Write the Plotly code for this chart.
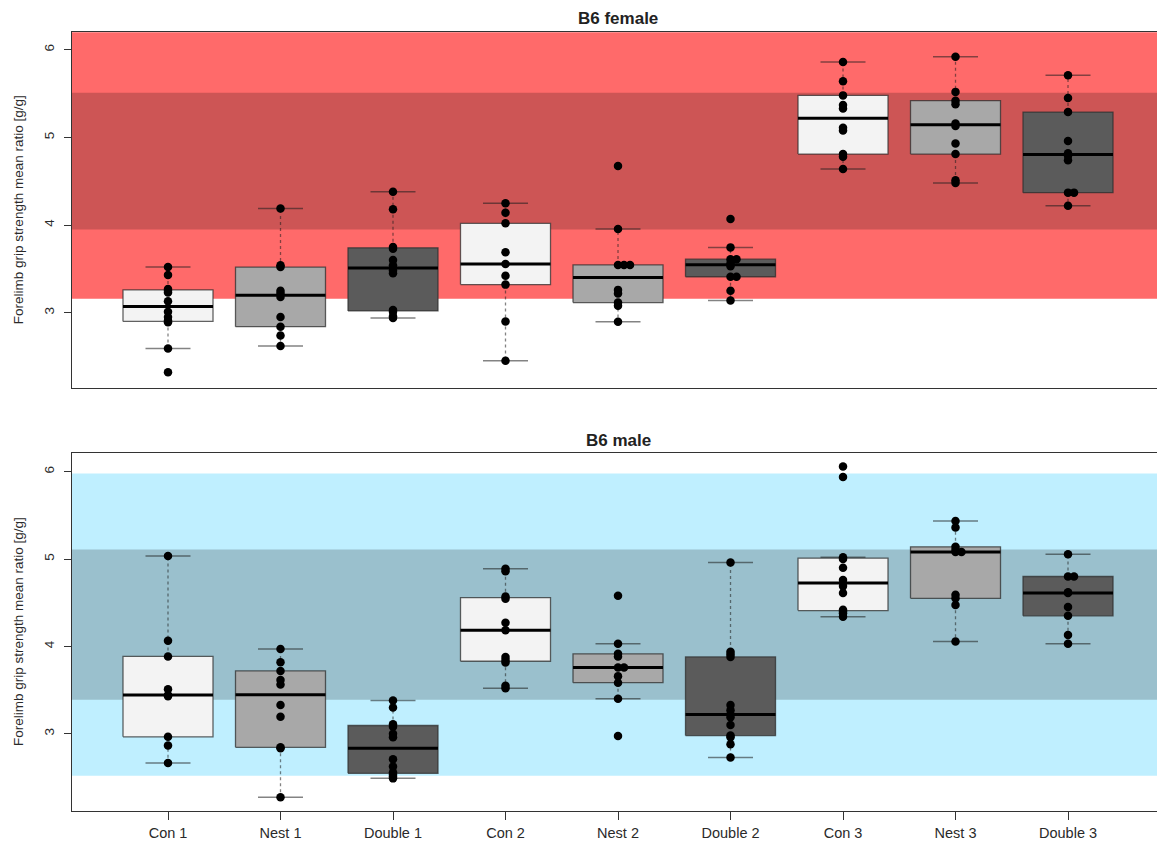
import math
import plotly.graph_objects as go

categories = ["Con 1", "Nest 1", "Double 1", "Con 2", "Nest 2", "Double 2",
              "Con 3", "Nest 3", "Double 3"]

# B6 female: forelimb grip strength mean ratio [g/g] per animal
female_con1 = [2.32, 2.59, 2.89, 2.91, 2.95, 3.01, 3.13, 3.23, 3.25, 3.27, 3.43, 3.52]
female_nest1 = [2.62, 2.74, 2.84, 2.95, 3.18, 3.22, 3.25, 3.52, 3.54, 4.19]
female_double1 = [2.94, 2.96, 3.01, 3.03, 3.45, 3.48, 3.54, 3.60, 3.73, 3.75, 4.18, 4.38]
female_con2 = [2.45, 2.90, 3.32, 3.42, 3.555, 3.69, 4.02, 4.14, 4.25]
female_nest2 = [2.895, 3.08, 3.115, 3.22, 3.26, 3.545, 3.545, 3.545, 3.955, 4.675]
female_double2 = [3.14, 3.25, 3.41, 3.41, 3.53, 3.565, 3.61, 3.61, 3.745, 4.07]
female_con3 = [4.64, 4.78, 4.81, 5.08, 5.11, 5.33, 5.37, 5.48, 5.64, 5.86]
female_nest3 = [4.48, 4.51, 4.81, 4.93, 5.13, 5.16, 5.38, 5.42, 5.52, 5.92]
female_double3 = [4.22, 4.37, 4.37, 4.74, 4.79, 4.82, 4.96, 5.29, 5.45, 5.71]

# B6 male
male_con1 = [2.665, 2.865, 2.965, 3.43, 3.445, 3.51, 3.885, 4.065, 5.035]
male_nest1 = [2.275, 2.835, 2.845, 3.195, 3.33, 3.565, 3.615, 3.72, 3.82, 3.97]
male_double1 = [2.49, 2.51, 2.535, 2.56, 2.625, 2.71, 2.96, 3.00, 3.08, 3.11, 3.30, 3.38]
male_con2 = [3.52, 3.55, 3.815, 3.845, 3.88, 4.185, 4.27, 4.545, 4.57, 4.86, 4.89]
male_nest2 = [2.975, 3.40, 3.585, 3.66, 3.76, 3.76, 3.885, 3.915, 4.03, 4.58]
male_double2 = [2.73, 2.88, 2.96, 2.98, 3.10, 3.19, 3.22, 3.27, 3.33, 3.88, 3.91, 3.94, 4.96]
male_con3 = [4.34, 4.38, 4.40, 4.42, 4.61, 4.69, 4.76, 4.90, 5.00, 5.02, 5.94, 6.06]
male_nest3 = [4.055, 4.475, 4.55, 4.59, 5.08, 5.08, 5.105, 5.14, 5.36, 5.435]
male_double3 = [4.03, 4.13, 4.35, 4.45, 4.61, 4.62, 4.80, 4.80, 5.055]

# reference ranges (inner and outer band) for each sex
female_band_inner = [3.95, 5.51]
female_band_outer = [3.16, 6.30]
male_band_inner = [3.39, 5.11]
male_band_outer = [2.52, 5.98]

y_ticks = [3, 4, 5, 6]
y_title = "Forelimb grip strength mean ratio [g/g]"

female = [female_con1, female_nest1, female_double1, female_con2, female_nest2,
          female_double2, female_con3, female_nest3, female_double3]
male = [male_con1, male_nest1, male_double1, male_con2, male_nest2,
        male_double2, male_con3, male_nest3, male_double3]

W, H = 1157, 848
X_RANGE = [0.144, 9.791]
X_DOM = [71.7 / W, 1.0]
TOP_DOM = [1 - 388 / H, 1 - 32.3 / H]
BOT_DOM = [1 - 810.7 / H, 1 - 453.3 / H]
TOP_YR = [2.14, 6.20]
BOT_YR = [2.12, 6.21]

FILL = {"Con": "#F3F3F3", "Nest": "#A8A8A8", "Double": "#5B5B5B"}
EDGE = "rgba(45,45,45,0.75)"
WHISK = "rgba(30,30,30,0.55)"
FONT = "Liberation Sans, Arial, sans-serif"
TXT = "#2a2a2a"

px_per_x = (X_DOM[1] - X_DOM[0]) * W / (X_RANGE[1] - X_RANGE[0])
tie_step = 6.0 / px_per_x  # horizontal spacing for tied points


def fivenum(v):
    s = sorted(v)
    n = len(s)
    n4 = math.floor((n + 3) / 2) / 2
    d = [1, n4, (n + 1) / 2, n + 1 - n4, n]
    return [0.5 * (s[math.floor(k) - 1] + s[math.ceil(k) - 1]) for k in d]


def box_stats(v):
    _, q1, med, q3, _ = fivenum(v)
    iqr = q3 - q1
    lo = min(x for x in v if x >= q1 - 1.5 * iqr)
    hi = max(x for x in v if x <= q3 + 1.5 * iqr)
    return lo, q1, med, q3, hi


fig = go.Figure()


def add_panel(groups, xa, ya):
    for i, (name, vals) in enumerate(zip(categories, groups)):
        p = i + 1
        lo, q1, med, q3, hi = box_stats(vals)
        fill = FILL[name.split()[0]]
        common = dict(xaxis=xa, yaxis=ya, showlegend=False, hoverinfo="skip")
        # whiskers (dashed)
        fig.add_trace(go.Scatter(x=[p, p, None, p, p], y=[q3, hi, None, q1, lo],
                                 mode="lines", line=dict(color=WHISK, width=1.3, dash="3px,3px"),
                                 **common))
        # staples
        fig.add_trace(go.Scatter(x=[p - 0.2, p + 0.2, None, p - 0.2, p + 0.2],
                                 y=[hi, hi, None, lo, lo], mode="lines",
                                 line=dict(color=WHISK, width=1.5), **common))
        # box
        fig.add_trace(go.Scatter(x=[p - 0.4, p + 0.4, p + 0.4, p - 0.4, p - 0.4],
                                 y=[q1, q1, q3, q3, q1], mode="lines", fill="toself",
                                 fillcolor=fill, line=dict(color=EDGE, width=1.3), **common))
        # median
        fig.add_trace(go.Scatter(x=[p - 0.4, p + 0.4], y=[med, med], mode="lines",
                                 line=dict(color="black", width=3), **common))
        # individual animals; tied values are set side by side
        sv = sorted(vals)
        xs = []
        for j, v in enumerate(sv):
            ties = sum(1 for w in sv[:j] if abs(w - v) < 1e-9)
            xs.append(p + ties * tie_step)
        fig.add_trace(go.Scatter(x=xs, y=sv, mode="markers",
                                 marker=dict(color="black", size=8.5, line=dict(width=0)),
                                 **common))


add_panel(female, "x", "y")
add_panel(male, "x2", "y2")

shapes = []
for yref, outer, inner, c_out, c_in in [
        ("y", female_band_outer, female_band_inner, "#FF6A6A", "#CD5555"),
        ("y2", male_band_outer, male_band_inner, "#BFEFFF", "#9AC0CD")]:
    xref = "x domain" if yref == "y" else "x2 domain"
    shapes.append(dict(type="rect", xref=xref, yref=yref, x0=0, x1=1, y0=outer[0], y1=outer[1],
                       fillcolor=c_out, line=dict(width=0), layer="below"))
    shapes.append(dict(type="rect", xref=xref, yref=yref, x0=0, x1=1, y0=inner[0], y1=inner[1],
                       fillcolor=c_in, line=dict(width=0), layer="below"))

axis_line = dict(showline=True, linecolor="#333333", linewidth=1.3, showgrid=False,
                 zeroline=False)

yax = dict(axis_line, tickvals=y_ticks, ticks="outside", ticklen=7,
           tickcolor="#333333", tickangle=-90, ticklabelstandoff=4,
           tickfont=dict(family=FONT, size=13.5, color=TXT), automargin=False)

x_mid = (5 - X_RANGE[0]) / (X_RANGE[1] - X_RANGE[0]) * (X_DOM[1] - X_DOM[0]) + X_DOM[0]

annotations = [
    dict(text="<b>B6 female</b>", x=x_mid, y=1 - 18 / H, xref="paper", yref="paper",
         showarrow=False, font=dict(family=FONT, size=17, color="#222222"), yanchor="middle"),
    dict(text="<b>B6 male</b>", x=x_mid, y=1 - 440 / H, xref="paper", yref="paper",
         showarrow=False, font=dict(family=FONT, size=17, color="#222222"), yanchor="middle"),
]
for dom in (TOP_DOM, BOT_DOM):
    annotations.append(dict(text=y_title, x=18 / W, y=(dom[0] + dom[1]) / 2,
                            xref="paper", yref="paper", showarrow=False, textangle=-90,
                            xanchor="center", yanchor="middle",
                            font=dict(family=FONT, size=13.5, color=TXT)))

fig.update_layout(
    width=W, height=H,
    margin=dict(l=0, r=0, t=0, b=0),
    paper_bgcolor="white", plot_bgcolor="white",
    shapes=shapes,
    annotations=annotations,
    xaxis=dict(axis_line, domain=X_DOM, range=X_RANGE, mirror=True, showticklabels=False,
               ticks="", anchor="y", automargin=False),
    yaxis=dict(yax, domain=TOP_DOM, range=TOP_YR, anchor="x"),
    xaxis2=dict(axis_line, domain=X_DOM, range=X_RANGE, mirror=True, anchor="y2",
                tickvals=list(range(1, len(categories) + 1)), ticktext=categories,
                ticks="outside", ticklen=8, tickcolor="#333333", ticklabelstandoff=1,
                tickfont=dict(family=FONT, size=14.5, color=TXT), automargin=False),
    yaxis2=dict(yax, domain=BOT_DOM, range=BOT_YR, anchor="x2"),
)

fig.write_html("out.html")
